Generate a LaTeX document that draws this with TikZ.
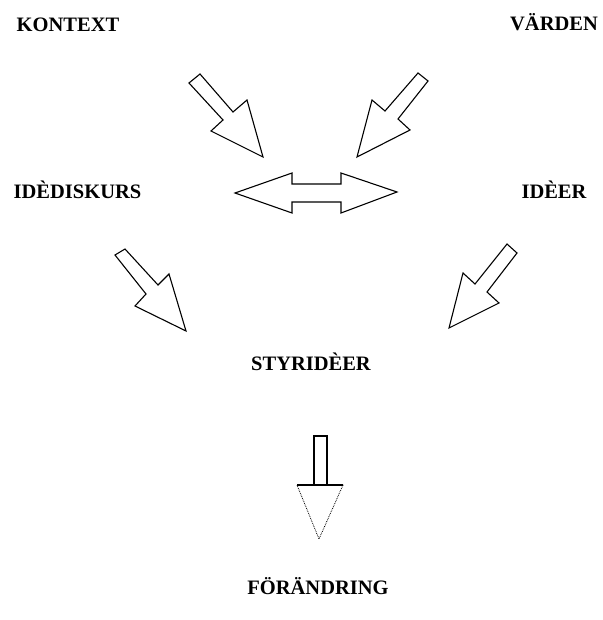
\documentclass[tikz,border=0pt]{standalone}
\usepackage{fontspec}
\setmainfont{Liberation Serif}
\begin{document}
\begin{tikzpicture}[x=1pt,y=-1pt,
  lbl/.style={font=\fontsize{20.5}{24}\selectfont\bfseries, inner sep=0pt, anchor=base},
  blockarrow/.style={draw=black, line width=1.1pt, line join=miter, fill=white}]
\useasboundingbox (0,0) rectangle (602,620);
% labels (base anchor: baseline)
\node[lbl] (kontext) at (68,32) {KONTEXT};
\node[lbl] (varden) at (554,31) {VÄRDEN};
\node[lbl] (idediskurs) at (77.5,199) {IDÈDISKURS};
\node[lbl] (ideer) at (554,199) {IDÈER};
\node[lbl] (styrideer) at (311,370) {STYRIDÈER};
\node[lbl] (forandring) at (318,594) {FÖRÄNDRING};
% arrow KONTEXT
\draw[blockarrow] (189,83) -- (200,74) -- (233,112) -- (247,100) -- (263,157) -- (211,131) -- (223,120) -- cycle;
% arrow VÄRDEN
\draw[blockarrow] (418,73) -- (428,81) -- (398,119) -- (410,130) -- (357,157) -- (372,100) -- (385,111) -- cycle;
% double arrow
\draw[blockarrow] (235,193) -- (292,173) -- (292,184) -- (341,184) -- (341,173) -- (397,192) -- (341,213) -- (341,202) -- (292,202) -- (292,213) -- cycle;
% arrow IDEDISKURS
\draw[blockarrow] (115,255) -- (125,249) -- (158,285) -- (169,274) -- (186,331) -- (135,306) -- (146,294) -- cycle;
% arrow IDEER
\draw[blockarrow] (507,244) -- (517,253) -- (487,292) -- (499,303) -- (449,328) -- (463,273) -- (475,284) -- cycle;
% down arrow
\draw[blockarrow] (314,436) -- (327,436) -- (327,485) -- (343,485) -- (297,485) -- (314,485) -- cycle;
\draw[line width=0.8pt, densely dotted] (343,485) -- (319,539) -- (297,485);
\end{tikzpicture}
\end{document}
